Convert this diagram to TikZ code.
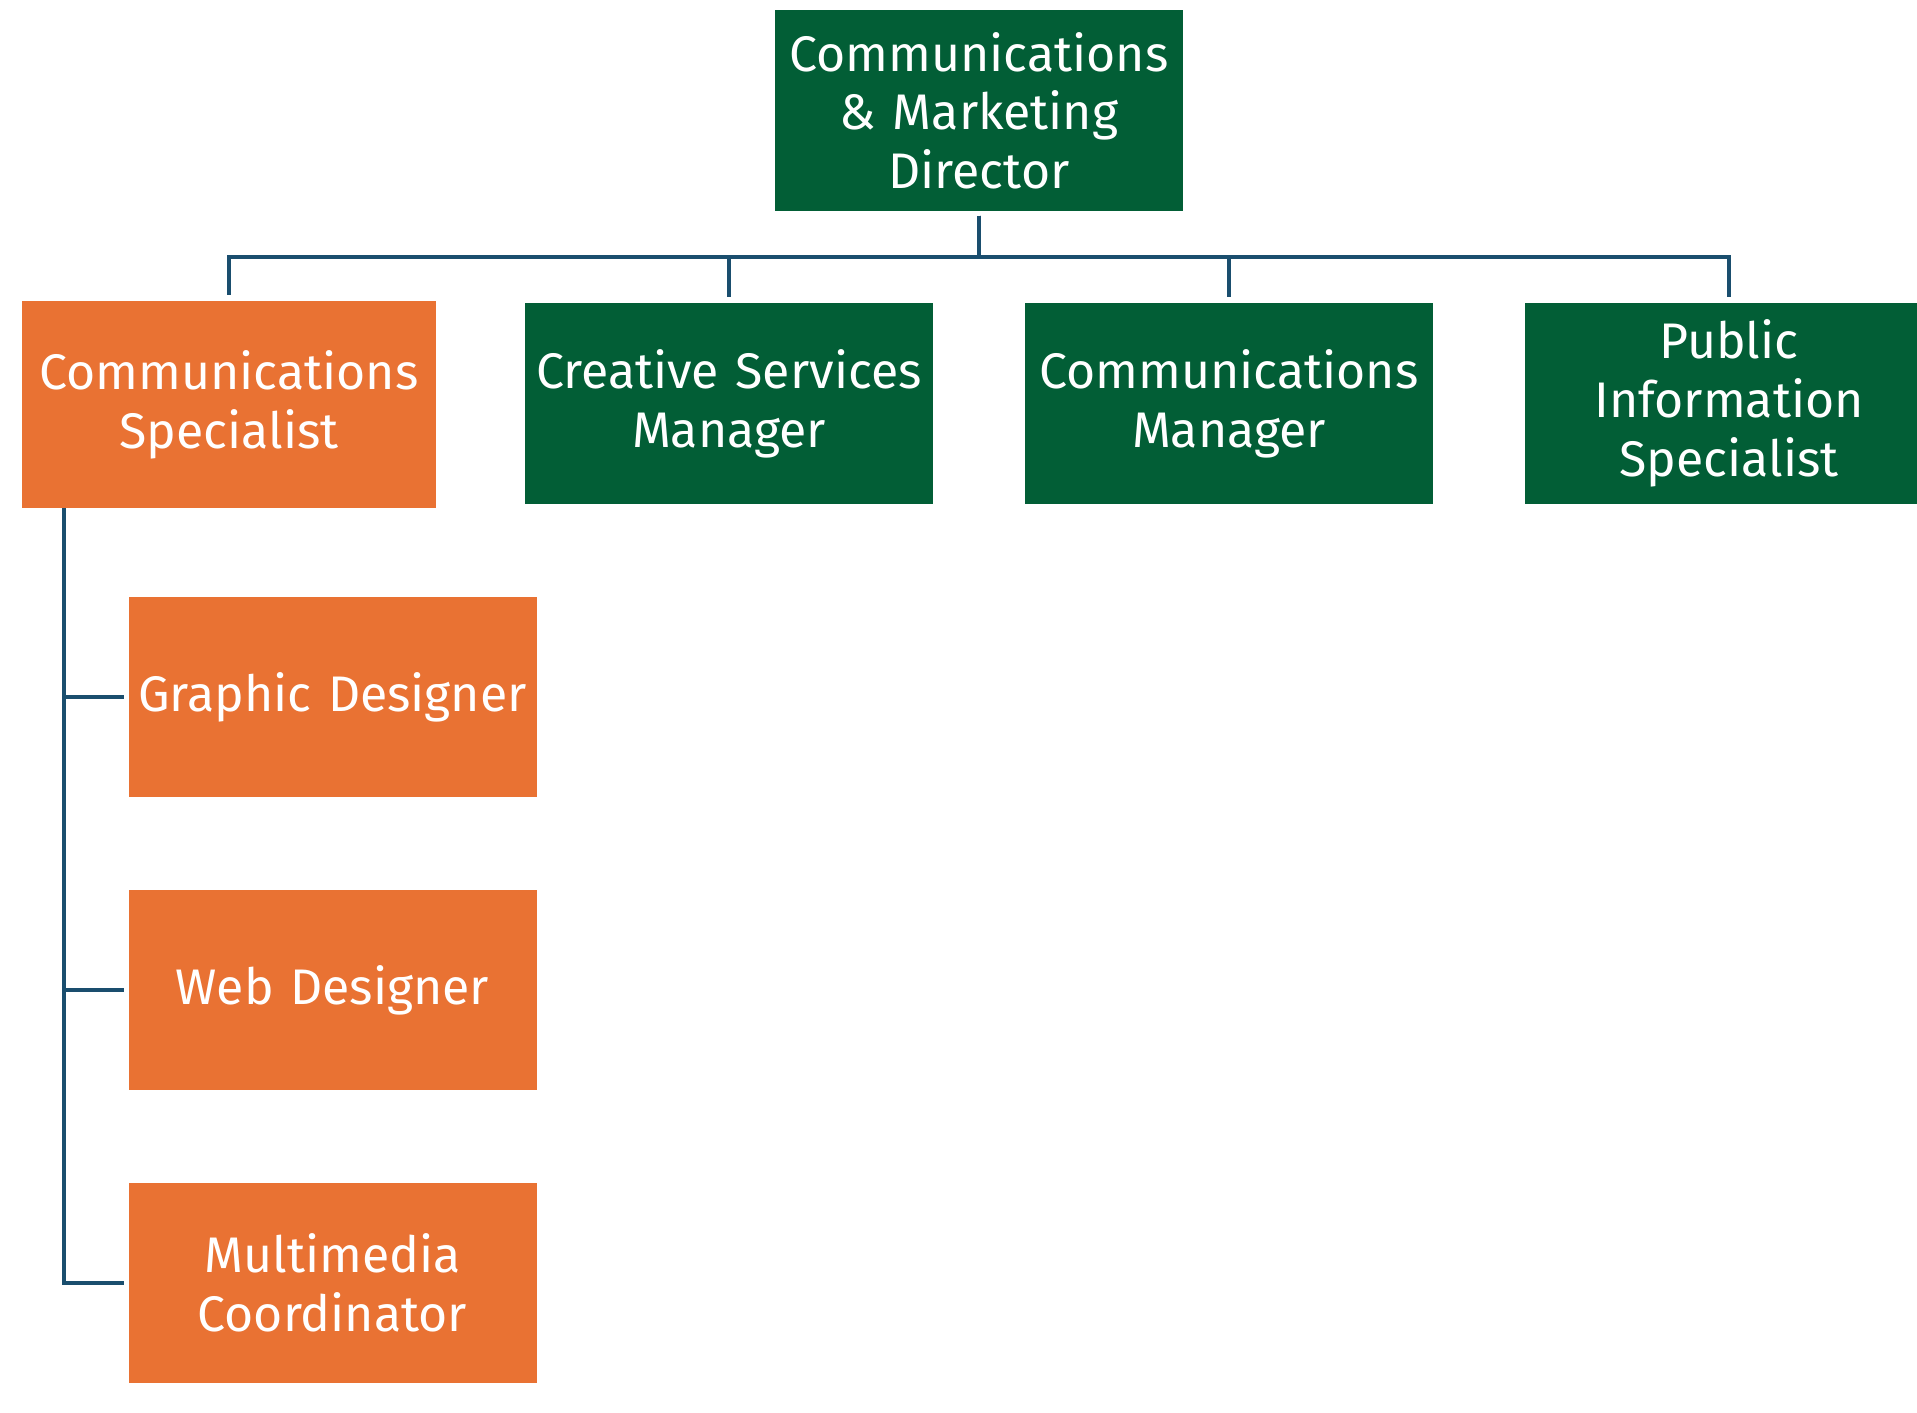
\documentclass[tikz,border=0pt]{standalone}
\usepackage{fontspec}
\setmainfont{Fira Sans}
\usepackage{tikz}
\usetikzlibrary{calc}

\definecolor{boardgreen}{RGB}{2,94,54}
\definecolor{teamorange}{RGB}{233,114,51}
\definecolor{linkblue}{RGB}{26,78,110}

\begin{document}
\begin{tikzpicture}[x=0.5pt,y=-0.5pt,
  role/.style={rectangle,inner sep=0pt,text=white,align=center,
    minimum width=204pt,minimum height=100.5pt,text width=204pt,
    font=\fontsize{25}{29.35}\selectfont},
  lead/.style={role,fill=boardgreen},
  staff/.style={role,fill=teamorange},
  link/.style={draw=linkblue,line width=2.1pt,line join=miter}]
\useasboundingbox[fill=white] (0,0) rectangle (1917,1413);

% top of the chart
\node[lead] (dir) at (979,110.75) {Communications\\ \& Marketing\\ Director};

% second row
\node[staff,minimum width=207pt,minimum height=103.5pt,text width=207pt] (spec) at (229,404.5) {Communications\\ Specialist};
\node[lead] (creative) at (729,403.5) {Creative Services\\ Manager};
\node[lead] (commmgr) at (1229,403.5) {Communications\\ Manager};
\node[lead] (public) at (1729,403.5) {Public\\ Information\\ Specialist};

% team below the specialist
\node[staff,minimum height=100pt] (graphic) at (332.5,697) {Graphic Designer};
\node[staff,minimum height=100pt] (web) at (332.5,990) {Web Designer};
\node[staff,minimum height=100pt] (multi) at (332.5,1283) {Multimedia\\ Coordinator};

\foreach \n in {spec,creative,commmgr,public}
  \draw[link] ([yshift=-2pt]dir.south) -- ++(0,41) -| ([yshift=3pt]\n.north);

\coordinate (spine) at (63.6,508);
\foreach \n in {graphic,web,multi}
  \draw[link] (spine) |- ([xshift=-2.2pt]\n.west);
\end{tikzpicture}
\end{document}
